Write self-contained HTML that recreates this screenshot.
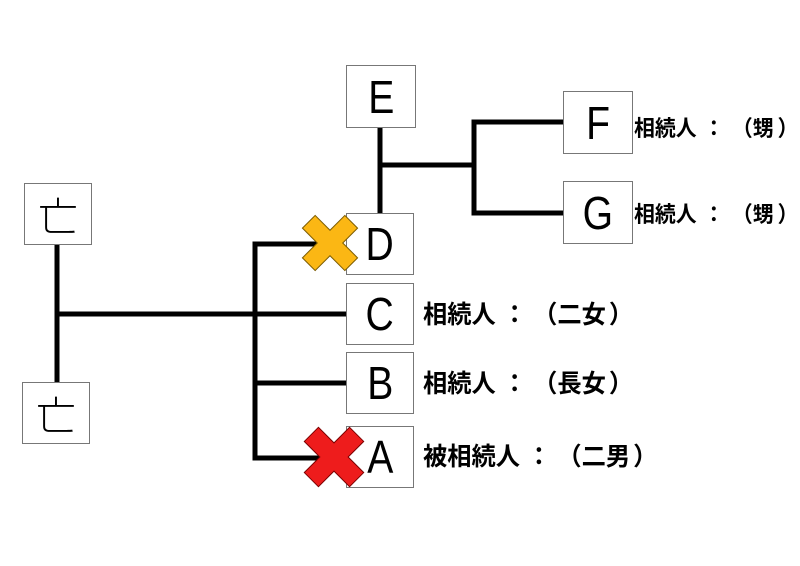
<!DOCTYPE html>
<html><head><meta charset="utf-8"><style>
body{margin:0;width:800px;height:566px;background:#fff;overflow:hidden;position:relative;font-family:"Liberation Sans","Noto Sans CJK JP",sans-serif}
.b{position:absolute;border:1.3px solid #777;background:#fff;box-sizing:border-box;display:flex;align-items:center;justify-content:center;font-size:46px;color:#000;font-weight:300}
.b span{display:inline-block;transform:scaleX(0.85)}
.t{position:absolute;font-family:"Noto Sans CJK JP",sans-serif;font-weight:bold;color:#000;white-space:nowrap;line-height:1}
.t1{font-size:25px;transform:scaleX(0.97);transform-origin:left}
.t2{font-size:22px;transform:scaleX(0.95);transform-origin:left}
.t1 .c{margin:0 9px 0 7px}.t1 .p{margin-left:10px}.t1 .q{margin-left:3px}
.t2 .c{margin:0 9px 0 7px}.t2 .p{margin-left:10px}.t2 .q{margin-left:4px}
svg{position:absolute;left:0;top:0}
</style></head><body>
<svg width="800" height="566">
<g stroke="#000" stroke-width="5" fill="none">
<line x1="57" y1="245" x2="57" y2="383"/>
<line x1="57" y1="314" x2="346" y2="314"/>
<polyline points="320,244 255,244 255,458 320,458"/>
<line x1="255" y1="383" x2="346" y2="383"/>
<line x1="380" y1="127" x2="380" y2="213"/>
<line x1="380" y1="165" x2="474" y2="165"/>
<polyline points="563,122 474,122 474,213 563,213"/>
</g>
</svg>
<div class="b" style="left:346px;top:65px;width:70px;height:63px"><span>E</span></div>
<div class="b" style="left:563px;top:91px;width:70px;height:63px"><span>F</span></div>
<div class="b" style="left:563px;top:181px;width:70px;height:63px"><span>G</span></div>
<div class="b" style="left:346px;top:213px;width:68px;height:62px"><span>D</span></div>
<div class="b" style="left:346px;top:283px;width:68px;height:62px"><span>C</span></div>
<div class="b" style="left:346px;top:352px;width:68px;height:62px"><span>B</span></div>
<div class="b" style="left:346px;top:426px;width:68px;height:62px"><span>A</span></div>
<div class="b" style="left:24px;top:183px;width:68px;height:62px;font-size:40px">亡</div>
<div class="b" style="left:22px;top:382px;width:68px;height:62px;font-size:40px">亡</div>
<svg width="800" height="566">
<g transform="translate(330,243) rotate(45)"><path d="M-9,-30 H9 V-9 H30 V9 H9 V30 H-9 V9 H-30 V-9 H-9 Z" fill="#fbb714" stroke="#7a5a00" stroke-width="1"/></g>
<g transform="translate(334,457) rotate(45)"><path d="M-10,-32 H10 V-10 H32 V10 H10 V32 H-10 V10 H-32 V-10 H-10 Z" fill="#ee1c1c" stroke="#7a0000" stroke-width="1"/></g>
</svg>
<div class="t t2" style="left:634px;top:116px">相続人<span class="c">：</span><span class="p">（</span>甥<span class="q">）</span></div>
<div class="t t2" style="left:634px;top:202px">相続人<span class="c">：</span><span class="p">（</span>甥<span class="q">）</span></div>
<div class="t t1" style="left:423px;top:301px">相続人<span class="c">：</span><span class="p">（</span>二女<span class="q">）</span></div>
<div class="t t1" style="left:423px;top:370px">相続人<span class="c">：</span><span class="p">（</span>長女<span class="q">）</span></div>
<div class="t t1" style="left:423px;top:443px">被相続人<span class="c">：</span><span class="p">（</span>二男<span class="q">）</span></div>
</body></html>
